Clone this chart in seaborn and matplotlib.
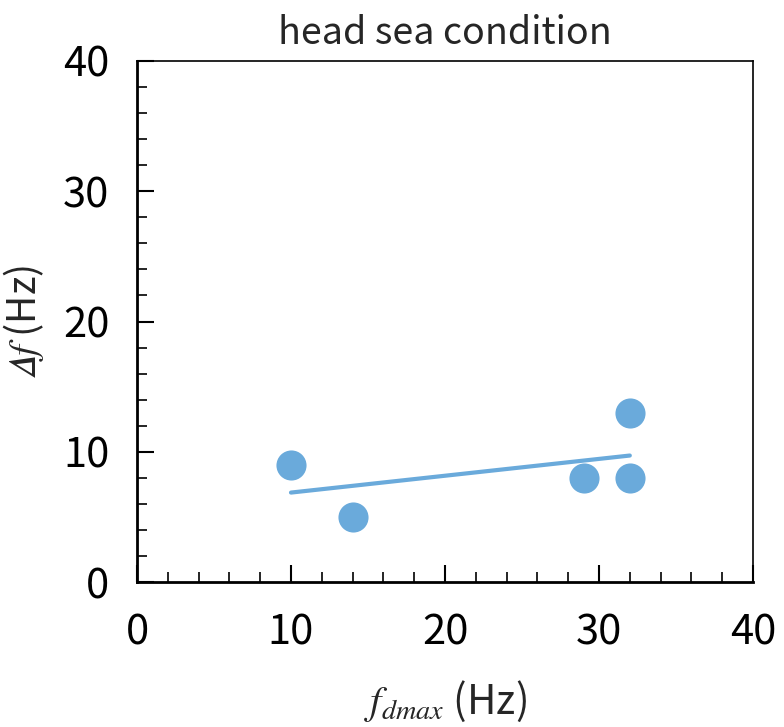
import numpy as np
import pandas as pd
import matplotlib
matplotlib.use("Agg")
import matplotlib.pyplot as plt
from matplotlib.ticker import MultipleLocator
import seaborn as sns

# 数据
f_dmax = [10, 14, 29, 32, 32]
delta_f = [9, 5, 8, 13, 8]
title = "head sea condition"

sns.set_style("white")
plt.rcParams['font.family'] = ['Noto Sans CJK JP', 'DejaVu Sans']
plt.rcParams['mathtext.fontset'] = 'stix'

df = pd.DataFrame({"f_dmax": f_dmax, "delta_f": delta_f})
color = "#6aaadb"

fig = plt.figure(figsize=(7.84, 7.27), dpi=100)
ax = fig.add_axes([0.1747, 0.1994, 0.7858, 0.7167])

sns.regplot(data=df, x="f_dmax", y="delta_f", ax=ax, ci=None, color=color,
            scatter_kws={"s": 470, "alpha": 1, "linewidths": 0},
            line_kws={"linewidth": 3})

ax.set_xlim(0, 40)
ax.set_ylim(0, 40)
ax.xaxis.set_major_locator(MultipleLocator(10))
ax.yaxis.set_major_locator(MultipleLocator(10))
ax.xaxis.set_minor_locator(MultipleLocator(2))
ax.yaxis.set_minor_locator(MultipleLocator(2))
ax.tick_params(which='both', direction='in', top=False, right=False,
               bottom=True, left=True, colors='black')
ax.tick_params(which='major', length=12, width=1.5, labelsize=30)
ax.tick_params(axis='x', which='major', pad=22)
ax.tick_params(axis='y', which='major', pad=20)
ax.tick_params(which='minor', length=7, width=1.2)

for side in ['left', 'bottom']:
    ax.spines[side].set_linewidth(2)
    ax.spines[side].set_color('black')
for side in ['top', 'right']:
    ax.spines[side].set_linewidth(1.2)
    ax.spines[side].set_color('black')

ax.set_title(title, fontsize=27, pad=12)
ax.set_xlabel(r"$\mathit{f}_{\mathit{dmax}}$ (Hz)", fontsize=29, labelpad=18)
ax.set_ylabel("$\U0001D6E5\\mathit{f}$ (Hz)", fontsize=28, labelpad=12)

fig.savefig("out.png", dpi=100)
